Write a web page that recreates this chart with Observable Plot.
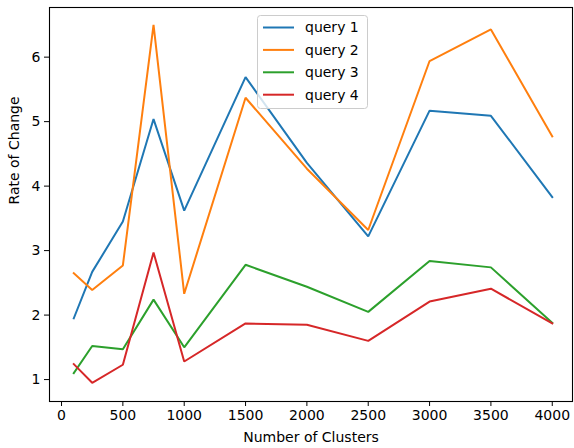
<!DOCTYPE html>
<html>
<head>
<meta charset="utf-8">
<script src="https://cdn.jsdelivr.net/npm/d3@7"></script>
<script src="https://cdn.jsdelivr.net/npm/@observablehq/plot@0.6"></script>
<style>
  html, body { margin: 0; padding: 0; background: #fff; }
  #chart { width: 574px; height: 448px; }
</style>
</head>
<body>
<div id="chart"></div>
<script>
const clusters = [100, 250, 500, 750, 1000, 1500, 2000, 2500, 3000, 3500, 4000];
const query1 = [1.95, 2.67, 3.45, 5.04, 3.62, 5.69, 4.36, 3.22, 5.17, 5.09, 3.83];
const query2 = [2.65, 2.39, 2.77, 6.50, 2.33, 5.37, 4.27, 3.32, 5.94, 6.43, 4.77];
const query3 = [1.10, 1.52, 1.47, 2.24, 1.50, 2.78, 2.44, 2.05, 2.84, 2.74, 1.88];
const query4 = [1.24, 0.95, 1.23, 2.97, 1.28, 1.87, 1.85, 1.60, 2.21, 2.41, 1.87];
const seriesNames = ["query 1", "query 2", "query 3", "query 4"];
const seriesColors = ["#1f77b4", "#ff7f0e", "#2ca02c", "#d62728"];
const xTicks = [0, 500, 1000, 1500, 2000, 2500, 3000, 3500, 4000];
const yTicks = [1, 2, 3, 4, 5, 6];
const xLabel = "Number of Clusters";
const yLabel = "Rate of Change";

const allSeries = [query1, query2, query3, query4];
const data = [];
allSeries.forEach((vals, i) => {
  vals.forEach((v, j) => data.push({series: seriesNames[i], x: clusters[j], y: v}));
});

const font = "DejaVu Sans, sans-serif";
const fs = 14;

const plot = Plot.plot({
  width: 574,
  height: 448,
  marginLeft: 49,
  marginRight: 2,
  marginTop: 7,
  marginBottom: 47,
  style: {fontFamily: font, fontSize: fs + "px", color: "#000", background: "#fff"},
  x: {domain: [-98, 4165]},
  y: {domain: [0.66, 6.77]},
  color: {domain: seriesNames, range: seriesColors},
  marks: [
    Plot.line(data, {x: "x", y: "y", z: "series", stroke: "series", strokeWidth: 2, strokeLinejoin: "miter", strokeLinecap: "square"}),
    Plot.frame({stroke: "#000", strokeWidth: 1.1}),
    Plot.axisX({ticks: xTicks, tickSize: 5, tickPadding: 4, tickFormat: d => String(d), label: null, fontSize: fs, stroke: "#000"}),
    Plot.axisY({ticks: yTicks, tickSize: 5, tickPadding: 4, tickFormat: d => String(d), label: null, fontSize: fs, stroke: "#000"}),
    Plot.text([xLabel], {text: d => d, frameAnchor: "bottom", dy: 36, lineAnchor: "middle", fontSize: fs, fill: "#000"}),
    Plot.text([yLabel], {text: d => d, frameAnchor: "left", dx: -35, rotate: -90, lineAnchor: "middle", fontSize: fs, fill: "#000"})
  ]
});

document.getElementById("chart").appendChild(plot);

// legend (matplotlib style)
const svg = d3.select(plot);
const lg = svg.append("g").attr("font-family", font).attr("font-size", fs).attr("text-anchor", "start");
const lx = 257, ly = 15, lw = 110, lh = 93;
lg.append("rect").attr("x", lx + 0.5).attr("y", ly + 0.5).attr("width", lw).attr("height", lh)
  .attr("rx", 3).attr("fill", "#fff").attr("fill-opacity", 0.8).attr("stroke", "#cccccc").attr("stroke-width", 1);
seriesNames.forEach((name, i) => {
  const cy = ly + 12.5 + i * 22.4;
  lg.append("line").attr("x1", lx + 6).attr("x2", lx + 37).attr("y1", cy).attr("y2", cy)
    .attr("stroke", seriesColors[i]).attr("stroke-width", 2);
  lg.append("text").attr("x", lx + 48).attr("y", cy).attr("dy", "0.35em").attr("text-anchor", "start").attr("fill", "#000").text(name);
});
</script>
</body>
</html>
